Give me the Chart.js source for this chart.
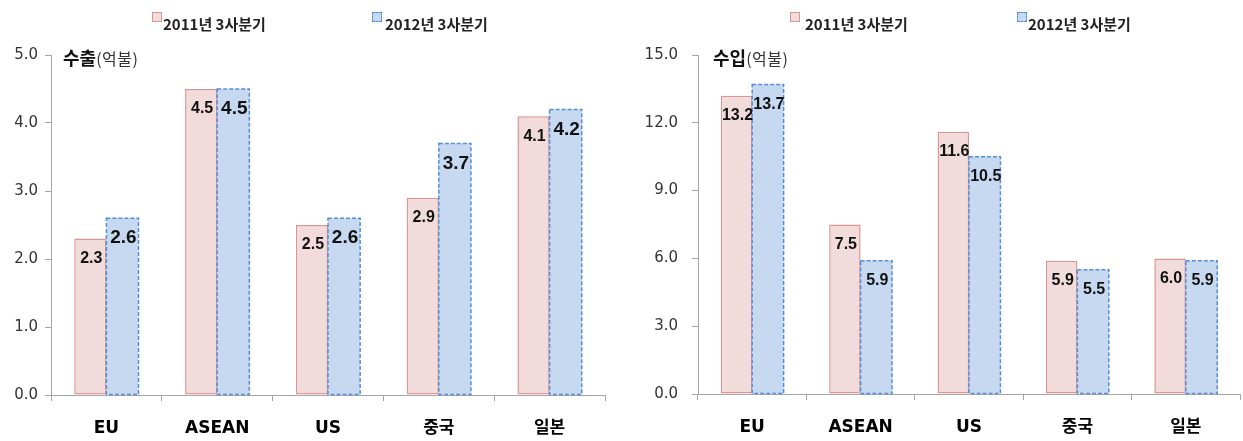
<!DOCTYPE html>
<html>
<head>
<meta charset="utf-8">
<script src="https://cdn.jsdelivr.net/npm/chart.js@4.4.1/dist/chart.umd.min.js"></script>
<style>
	body { margin: 0; background: #fff; }
	.wrap { position: relative; width: 1243px; height: 441px; overflow: hidden; }
	.box { position: absolute; top: 0; height: 441px; }
	.legend-box { position: absolute; top: 12px; width: 8px; height: 8px; }
	.legend-txt { position: absolute; top: 13px; line-height: 20px; font: bold 15px "Noto Sans CJK KR", sans-serif; color: #222; white-space: nowrap; }
	.title { position: absolute; top: 45px; line-height: 24px; font-family: "Noto Sans CJK KR", sans-serif; color: #111; white-space: nowrap; }
	.title b { font-size: 18px; }
	.title span { font-size: 16px; color: #333; letter-spacing: 0.5px; }
	.pink { background: #f2dcdb; border: 1px solid #d99694; }
	.blue { background: #c6d9f1; border: 1px dashed #558ed5; }
</style>
</head>
<body>
<div class="wrap">
	<div class="box" style="left:0;width:620px"><canvas id="export-area" width="620" height="441"></canvas></div>
	<div class="box" style="left:620px;width:623px"><canvas id="import-area" width="623" height="441"></canvas></div>

	<div class="legend-box pink" style="left:152px"></div>
	<div class="legend-txt" style="left:163px">2011년 3사분기</div>
	<div class="legend-box blue" style="left:372px"></div>
	<div class="legend-txt" style="left:385px">2012년 3사분기</div>
	<div class="title" style="left:63px"><b>수출</b><span>(억불)</span></div>

	<div class="legend-box pink" style="left:790px"></div>
	<div class="legend-txt" style="left:805px">2011년 3사분기</div>
	<div class="legend-box blue" style="left:1017px"></div>
	<div class="legend-txt" style="left:1028px">2012년 3사분기</div>
	<div class="title" style="left:713px"><b>수입</b><span>(억불)</span></div>
</div>
<script>
var categories = ['EU', 'ASEAN', 'US', '중국', '일본'];
var seriesNames = ['2011년 3사분기', '2012년 3사분기'];

var export2011 = [2.3, 4.5, 2.5, 2.9, 4.1];
var export2012 = [2.6, 4.5, 2.6, 3.7, 4.2];
var exportTicks = { max: 5, step: 1 };

var import2011 = [13.2, 7.5, 11.6, 5.9, 6.0];
var import2012 = [13.7, 5.9, 10.5, 5.5, 5.9];
var importTicks = { max: 15, step: 3 };

var axisColor = '#a6a6a6';

// dashed outline for 2012 bars + value labels inside the bars
var barLabels = {
	id: 'barLabels',
	afterDatasetsDraw: function(chart, args, opts) {
		var ctx = chart.ctx;
		ctx.save();
		var meta = chart.getDatasetMeta(1);
		meta.data.forEach(function(bar) {
			var p = bar.getProps(['x', 'y', 'width', 'base'], true);
			ctx.setLineDash([4, 2]);
			ctx.lineWidth = 1.5;
			ctx.strokeStyle = '#558ed5';
			ctx.strokeRect(p.x - p.width / 2, p.y, p.width, p.base - p.y);
		});
		ctx.setLineDash([]);
		ctx.fillStyle = '#111';
		ctx.textAlign = 'center';
		ctx.textBaseline = 'middle';
		chart.data.datasets.forEach(function(ds, i) {
			ctx.font = 'bold ' + opts.sizes[i] + 'px "Liberation Sans", Arial, sans-serif';
			chart.getDatasetMeta(i).data.forEach(function(bar, j) {
				ctx.fillText(ds.data[j].toFixed(1), bar.x + 1, bar.y + 20);
			});
		});
		ctx.restore();
	}
};

function makeConfig(d2011, d2012, ticks, yWidth, padRight, xHeight, tickPad, sizes) {
	return {
		type: 'bar',
		data: {
			labels: categories,
			datasets: [{
				label: seriesNames[0],
				data: d2011,
				backgroundColor: '#f2dcdb',
				borderColor: '#d99694',
				borderWidth: 1.5,
				borderSkipped: false
			}, {
				label: seriesNames[1],
				data: d2012,
				backgroundColor: '#c6d9f1',
				borderWidth: 0
			}]
		},
		options: {
			responsive: false,
			animation: false,
			layout: { padding: { top: 55, right: padRight, left: 0, bottom: 0 } },
			plugins: {
				legend: { display: false },
				tooltip: { enabled: false },
				barLabels: { sizes: sizes }
			},
			datasets: { bar: { categoryPercentage: 0.58, barPercentage: 1 } },
			scales: {
				x: {
					grid: { drawOnChartArea: false, offset: true, tickLength: 6, color: axisColor },
					border: { color: axisColor },
					ticks: {
						color: '#000',
						padding: 17,
						font: { family: '"DejaVu Sans", "Noto Sans CJK KR", sans-serif', size: 17, weight: 'bold' }
					},
					afterFit: function(scale) { scale.height = xHeight; }
				},
				y: {
					min: 0,
					max: ticks.max,
					grid: { drawOnChartArea: false, tickLength: 6, color: axisColor },
					border: { color: axisColor },
					ticks: {
						stepSize: ticks.step,
						padding: tickPad,
						color: '#333',
						font: { family: '"DejaVu Sans", sans-serif', size: 15 },
						callback: function(v) { return v.toFixed(1); }
					},
					afterFit: function(scale) { scale.width = yWidth; }
				}
			}
		},
		plugins: [barLabels]
	};
}

window.onload = function() {
	new Chart(document.getElementById('export-area').getContext('2d'),
		makeConfig(export2011, export2012, exportTicks, 51, 15, 46, 7, [16, 19]));
	new Chart(document.getElementById('import-area').getContext('2d'),
		makeConfig(import2011, import2012, importTicks, 78, 3, 47, 14, [16, 16]));
};
</script>
</body>
</html>
